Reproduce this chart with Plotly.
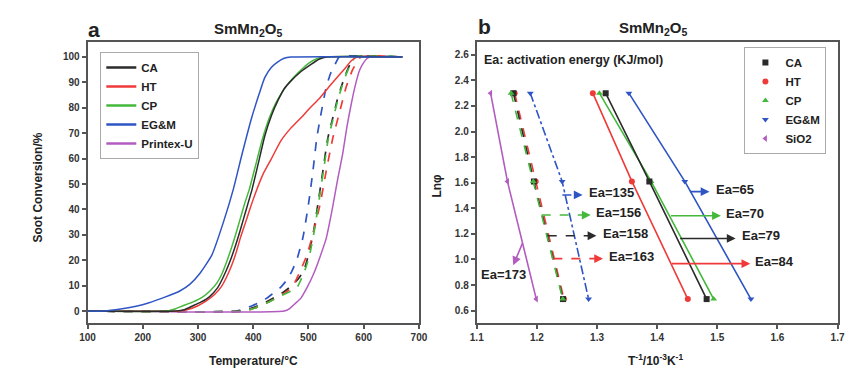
import plotly.graph_objects as go

# ---------------- Panel a: soot conversion vs temperature ----------------
series_a = ["CA", "HT", "CP", "EG&M", "Printex-U"]
colors = {"CA": "#2b2b2b", "HT": "#f03a3a", "CP": "#45b83c", "EG&M": "#2f55c4",
          "Printex-U": "#b35cc0", "SiO2": "#b35cc0"}

T_ca = [100, 260, 275, 290, 305, 320, 335, 346, 356, 366, 374, 382, 390, 398, 409, 421, 433, 445, 456, 468, 485, 504, 520, 533, 670]
v_ca = [0, 0, 0.5, 2, 3.5, 5.5, 9, 13.5, 18.5, 24.5, 30, 36, 42, 48, 58, 69, 77, 83, 87.5, 90.5, 94, 97, 99.2, 100, 100]

T_ht = [100, 265, 280, 299, 315, 330, 342, 352, 361, 369, 377, 387, 396, 405, 418, 433, 450, 468, 486, 503, 521, 538, 556, 568, 577, 588, 670]
v_ht = [0, 0, 0.5, 2, 4, 6.5, 9.5, 13.5, 18, 23, 29, 35.5, 41.5, 47, 54, 60, 67, 72, 76, 80, 84, 88.5, 93, 96, 98.4, 100, 100]

T_cp = [100, 245, 258, 272, 290, 308, 322, 334, 344, 352, 360, 368, 376, 384, 393, 405, 417, 429, 441, 452, 465, 480, 500, 515, 527, 670]
v_cp = [0, 0, 0.8, 2, 3.5, 5.5, 8, 11, 15, 19.5, 24.5, 30, 36, 42, 48, 58, 68, 76, 82, 86, 90, 93.5, 97.5, 99.3, 100, 100]

T_eg = [100, 130, 160, 190, 210, 240, 267, 285, 304, 325, 346, 364, 380, 397, 410, 421, 433, 444, 456, 468, 670]
v_eg = [0, 0, 0.8, 2, 3.2, 5.5, 7.9, 10.5, 15, 22, 35, 48, 62, 76, 85, 92, 96, 98, 99.5, 100, 100]

T_pu = [100, 456, 466, 475, 486, 498, 510, 522, 532, 543, 553, 562, 570, 577, 585, 592, 599, 606, 612, 670]
v_pu = [0, 0, 1, 2.8, 5, 9.5, 15, 22, 28.5, 40, 52, 62, 73, 81, 89, 94.5, 97.5, 99.4, 100, 100]

# dashed curves (no legend entries)
Td_eg = [100, 370, 385, 400, 412, 424, 436, 448, 460, 470, 480, 490, 500, 508, 515, 523, 532, 540, 548, 556, 670]
vd_eg = [0, 0, 1, 2.3, 3.5, 5, 7, 9, 12, 15.7, 21, 29, 42, 55, 68, 78, 88, 93.5, 97, 100, 100]

Td_ca = [100, 380, 395, 410, 425, 440, 455, 467, 479, 491, 500, 509, 517, 526, 535, 544, 552, 559, 567, 575, 583, 670]
vd_ca = [0, 0, 1, 2.2, 3.8, 5.5, 7.5, 9.5, 12, 15.7, 22, 31, 42, 55, 68, 76, 83, 88, 93, 97, 100, 100]

Td_cp = [100, 385, 400, 415, 430, 445, 460, 470, 479, 493, 502, 510, 518, 527, 536, 545, 553, 560, 568, 576, 585, 670]
vd_cp = [0, 0, 1, 2.2, 3.8, 5.5, 7, 8, 9.2, 15.7, 22, 31, 42, 55, 68, 76, 83, 88, 93, 97, 100, 100]

Td_ht = [100, 385, 400, 415, 430, 445, 460, 472, 485, 497, 509, 521, 532, 544, 556, 568, 580, 595, 670]
vd_ht = [0, 0, 1, 2.2, 3.8, 5.5, 7.5, 10, 15.7, 22, 31, 42, 55, 68, 78, 88, 95, 100, 100]

x_ticks_a = [100, 200, 300, 400, 500, 600, 700]
y_ticks_a = [0, 10, 20, 30, 40, 50, 60, 70, 80, 90, 100]

# ---------------- Panel b: Arrhenius plot ----------------
ln_phi = [2.30, 1.61, 0.69]
x_ca = [1.3144, 1.387, 1.4823]
x_ht = [1.293, 1.358, 1.451]
x_cp = [1.304, 1.390, 1.494]
x_eg = [1.353, 1.446, 1.556]
x_si = [1.123, 1.151, 1.199]
xd_ca = [1.161, 1.195, 1.2435]
xd_ht = [1.163, 1.198, 1.245]
xd_cp = [1.157, 1.194, 1.243]
xd_eg = [1.189, 1.242, 1.286]

series_b = ["CA", "HT", "CP", "EG&M", "SiO2"]
symbols_b = ["square", "circle", "triangle-up", "triangle-down", "triangle-left"]

# Ea annotations: label, arrow start x, arrow end x, arrow y, colour, dashed
ea_labels = ["Ea=65", "Ea=70", "Ea=79", "Ea=84", "Ea=135", "Ea=156", "Ea=158", "Ea=163"]
ea_x0 = [1.452, 1.4206, 1.4357, 1.4222, 1.2424, 1.208, 1.218, 1.2273]
ea_x1 = [1.487, 1.506, 1.5305, 1.5549, 1.276, 1.2895, 1.299, 1.310]
ea_y = [1.53, 1.342, 1.164, 0.967, 1.504, 1.347, 1.185, 1.006]
ea_series = ["EG&M", "CP", "CA", "HT", "EG&M", "CP", "CA", "HT"]
ea_dashed = [False, False, False, False, True, True, True, True]
ea_text_x = [1.494, 1.5116, 1.5386, 1.560, 1.283, 1.295, 1.3069, 1.3166]
# SiO2 arrow
si_label = "Ea=173"
si_arrow = [1.177, 1.137, 1.1606, 0.954]  # x0, y0, x1, y1
si_text = [1.145, 0.883]

x_ticks_b = [1.1, 1.2, 1.3, 1.4, 1.5, 1.6, 1.7]
y_ticks_b = [0.6, 0.8, 1.0, 1.2, 1.4, 1.6, 1.8, 2.0, 2.2, 2.4, 2.6]

W, H = 865, 375
FONT = "Arial, Liberation Sans, sans-serif"

fig = go.Figure()

solid_a = {"CA": (T_ca, v_ca), "HT": (T_ht, v_ht), "CP": (T_cp, v_cp),
           "EG&M": (T_eg, v_eg), "Printex-U": (T_pu, v_pu)}
dashed_a = [("EG&M", Td_eg, vd_eg), ("CA", Td_ca, vd_ca), ("HT", Td_ht, vd_ht), ("CP", Td_cp, vd_cp)]

for name, Tt, vv in dashed_a:
    fig.add_trace(go.Scatter(x=Tt, y=vv, mode="lines", showlegend=False,
                             line=dict(color=colors[name], width=1.7, dash="dash", shape="spline", smoothing=0.5),
                             xaxis="x", yaxis="y", hoverinfo="skip"))
for name in ["Printex-U", "HT", "CP", "CA", "EG&M"]:
    Tt, vv = solid_a[name]
    fig.add_trace(go.Scatter(x=Tt, y=vv, mode="lines", name=name, showlegend=False,
                             line=dict(color=colors[name], width=1.5, shape="spline", smoothing=0.5),
                             xaxis="x", yaxis="y"))
# legend entries for panel a in reference order
for name in series_a:
    fig.add_trace(go.Scatter(x=[None], y=[None], mode="lines", name=name, legend="legend",
                             line=dict(color=colors[name], width=2.5), xaxis="x", yaxis="y"))

# panel b traces
dashed_b = [("EG&M", xd_eg), ("HT", xd_ht), ("CA", xd_ca), ("CP", xd_cp)]
sym = dict(zip(series_b, symbols_b))
dash_style = {"EG&M": "dashdot", "HT": "dash", "CA": "dash", "CP": "dash"}
for name, xs in dashed_b:
    fig.add_trace(go.Scatter(x=xs, y=ln_phi, mode="lines+markers", showlegend=False,
                             line=dict(color=colors[name], width=1.6, dash=dash_style[name]),
                             marker=dict(symbol=sym[name], size=6, color=colors[name]),
                             xaxis="x2", yaxis="y2"))
solid_b = {"CA": x_ca, "HT": x_ht, "CP": x_cp, "EG&M": x_eg, "SiO2": x_si}
for name in ["SiO2", "HT", "CP", "CA", "EG&M"]:
    fig.add_trace(go.Scatter(x=solid_b[name], y=ln_phi, mode="lines+markers", showlegend=False,
                             line=dict(color=colors[name], width=1.6),
                             marker=dict(symbol=sym[name], size=6, color=colors[name]),
                             xaxis="x2", yaxis="y2"))
for name in series_b:
    fig.add_trace(go.Scatter(x=[None], y=[None], mode="markers", name=name, legend="legend2",
                             marker=dict(symbol=sym[name], size=6, color=colors[name]),
                             xaxis="x2", yaxis="y2"))

annotations = []
shapes = []
for lab, x0, x1, y, s, d, tx in zip(ea_labels, ea_x0, ea_x1, ea_y, ea_series, ea_dashed, ea_text_x):
    c = colors[s]
    if d:
        shapes.append(dict(type="line", xref="x2", yref="y2", x0=x0, x1=x1 - 0.012, y0=y, y1=y,
                           line=dict(color=c, width=1.6, dash="dash")))
        ax0 = x1 - 0.014
    else:
        ax0 = x0
    annotations.append(dict(x=x1, y=y, ax=ax0, ay=y, xref="x2", yref="y2", axref="x2", ayref="y2",
                            text="", showarrow=True, arrowhead=2, arrowsize=1.1, arrowwidth=1.6,
                            arrowcolor=c))
    annotations.append(dict(x=tx, y=y + 0.02, xref="x2", yref="y2", text=lab, showarrow=False,
                            xanchor="left", yanchor="middle",
                            font=dict(family=FONT, size=13, color="#222", weight="bold")))
annotations.append(dict(x=si_arrow[2], y=si_arrow[3], ax=si_arrow[0], ay=si_arrow[1],
                        xref="x2", yref="y2", axref="x2", ayref="y2", text="", showarrow=True,
                        arrowhead=2, arrowsize=1.1, arrowwidth=1.6, arrowcolor=colors["SiO2"]))
annotations.append(dict(x=si_text[0], y=si_text[1], xref="x2", yref="y2", text=si_label, showarrow=False,
                        xanchor="center", yanchor="middle",
                        font=dict(family=FONT, size=13, color="#222", weight="bold")))
annotations.append(dict(x=1.108, y=2.56, xref="x2", yref="y2", text="Ea: activation energy (KJ/mol)",
                        showarrow=False, xanchor="left", yanchor="middle",
                        font=dict(family=FONT, size=12.5, color="#222", weight="bold")))

def paper(px, py):
    return px / W, 1 - py / H

def txt(px, py, text, size, angle=0, weight="bold"):
    x, y = paper(px, py)
    annotations.append(dict(x=x, y=y, xref="paper", yref="paper", text=text, showarrow=False,
                            xanchor="center", yanchor="middle", textangle=angle,
                            font=dict(family=FONT, size=size, color="#222", weight=weight)))

txt(237, 21, "SmMn<sub>2</sub>O<sub>5</sub>", 15)
txt(650, 20, "SmMn<sub>2</sub>O<sub>5</sub>", 15)
txt(80, 22, "a", 21)
txt(478, 18, "b", 21)
txt(242, 353, "Temperature/°C", 12)
txt(22, 180, "Soot Conversion/%", 12, angle=-90)
txt(652, 352, "T<sup>-1</sup>/10<sup>-3</sup>K<sup>-1</sup>", 12)
txt(429, 178, "Lnφ", 12, angle=-90)

axis_common = dict(showline=True, mirror=True, linecolor="#555", linewidth=2, ticks="outside",
                   ticklen=4, tickwidth=1.5, tickcolor="#555", showgrid=False, zeroline=False,
                   tickfont=dict(family=FONT, size=10, color="#333", weight="bold"))

fig.update_layout(
    width=W, height=H, margin=dict(l=0, r=0, t=0, b=0),
    plot_bgcolor="white", paper_bgcolor="white",
    xaxis=dict(domain=[73 / W, 411 / W], range=[100, 700], tickvals=x_ticks_a, anchor="y", **axis_common),
    yaxis=dict(domain=[1 - 315 / H, 1 - 34 / H], range=[-4.7, 105.9], tickvals=y_ticks_a, anchor="x", **axis_common),
    xaxis2=dict(domain=[470 / W, 838 / W], range=[1.1, 1.7], tickvals=x_ticks_b,
                ticktext=[str(v) for v in x_ticks_b], anchor="y2", **axis_common),
    yaxis2=dict(domain=[1 - 315 / H, 1 - 34 / H], range=[0.503, 2.70], tickvals=y_ticks_b,
                ticktext=[f"{v:.1f}" for v in y_ticks_b], anchor="x2", **axis_common),
    legend=dict(x=86 / W, y=1 - 44 / H, xanchor="left", yanchor="top", bgcolor="white",
                bordercolor="#aaa", borderwidth=1, tracegroupgap=0, itemwidth=30,
                font=dict(family=FONT, size=11.5, color="#222", weight="bold")),
    legend2=dict(x=743 / W, y=1 - 39 / H, xanchor="left", yanchor="top", bgcolor="white",
                 bordercolor="#aaa", borderwidth=1, tracegroupgap=0, itemwidth=30,
                 font=dict(family=FONT, size=11.5, color="#222", weight="bold")),
    annotations=annotations, shapes=shapes, showlegend=True,
)

fig.write_html("out.html")
